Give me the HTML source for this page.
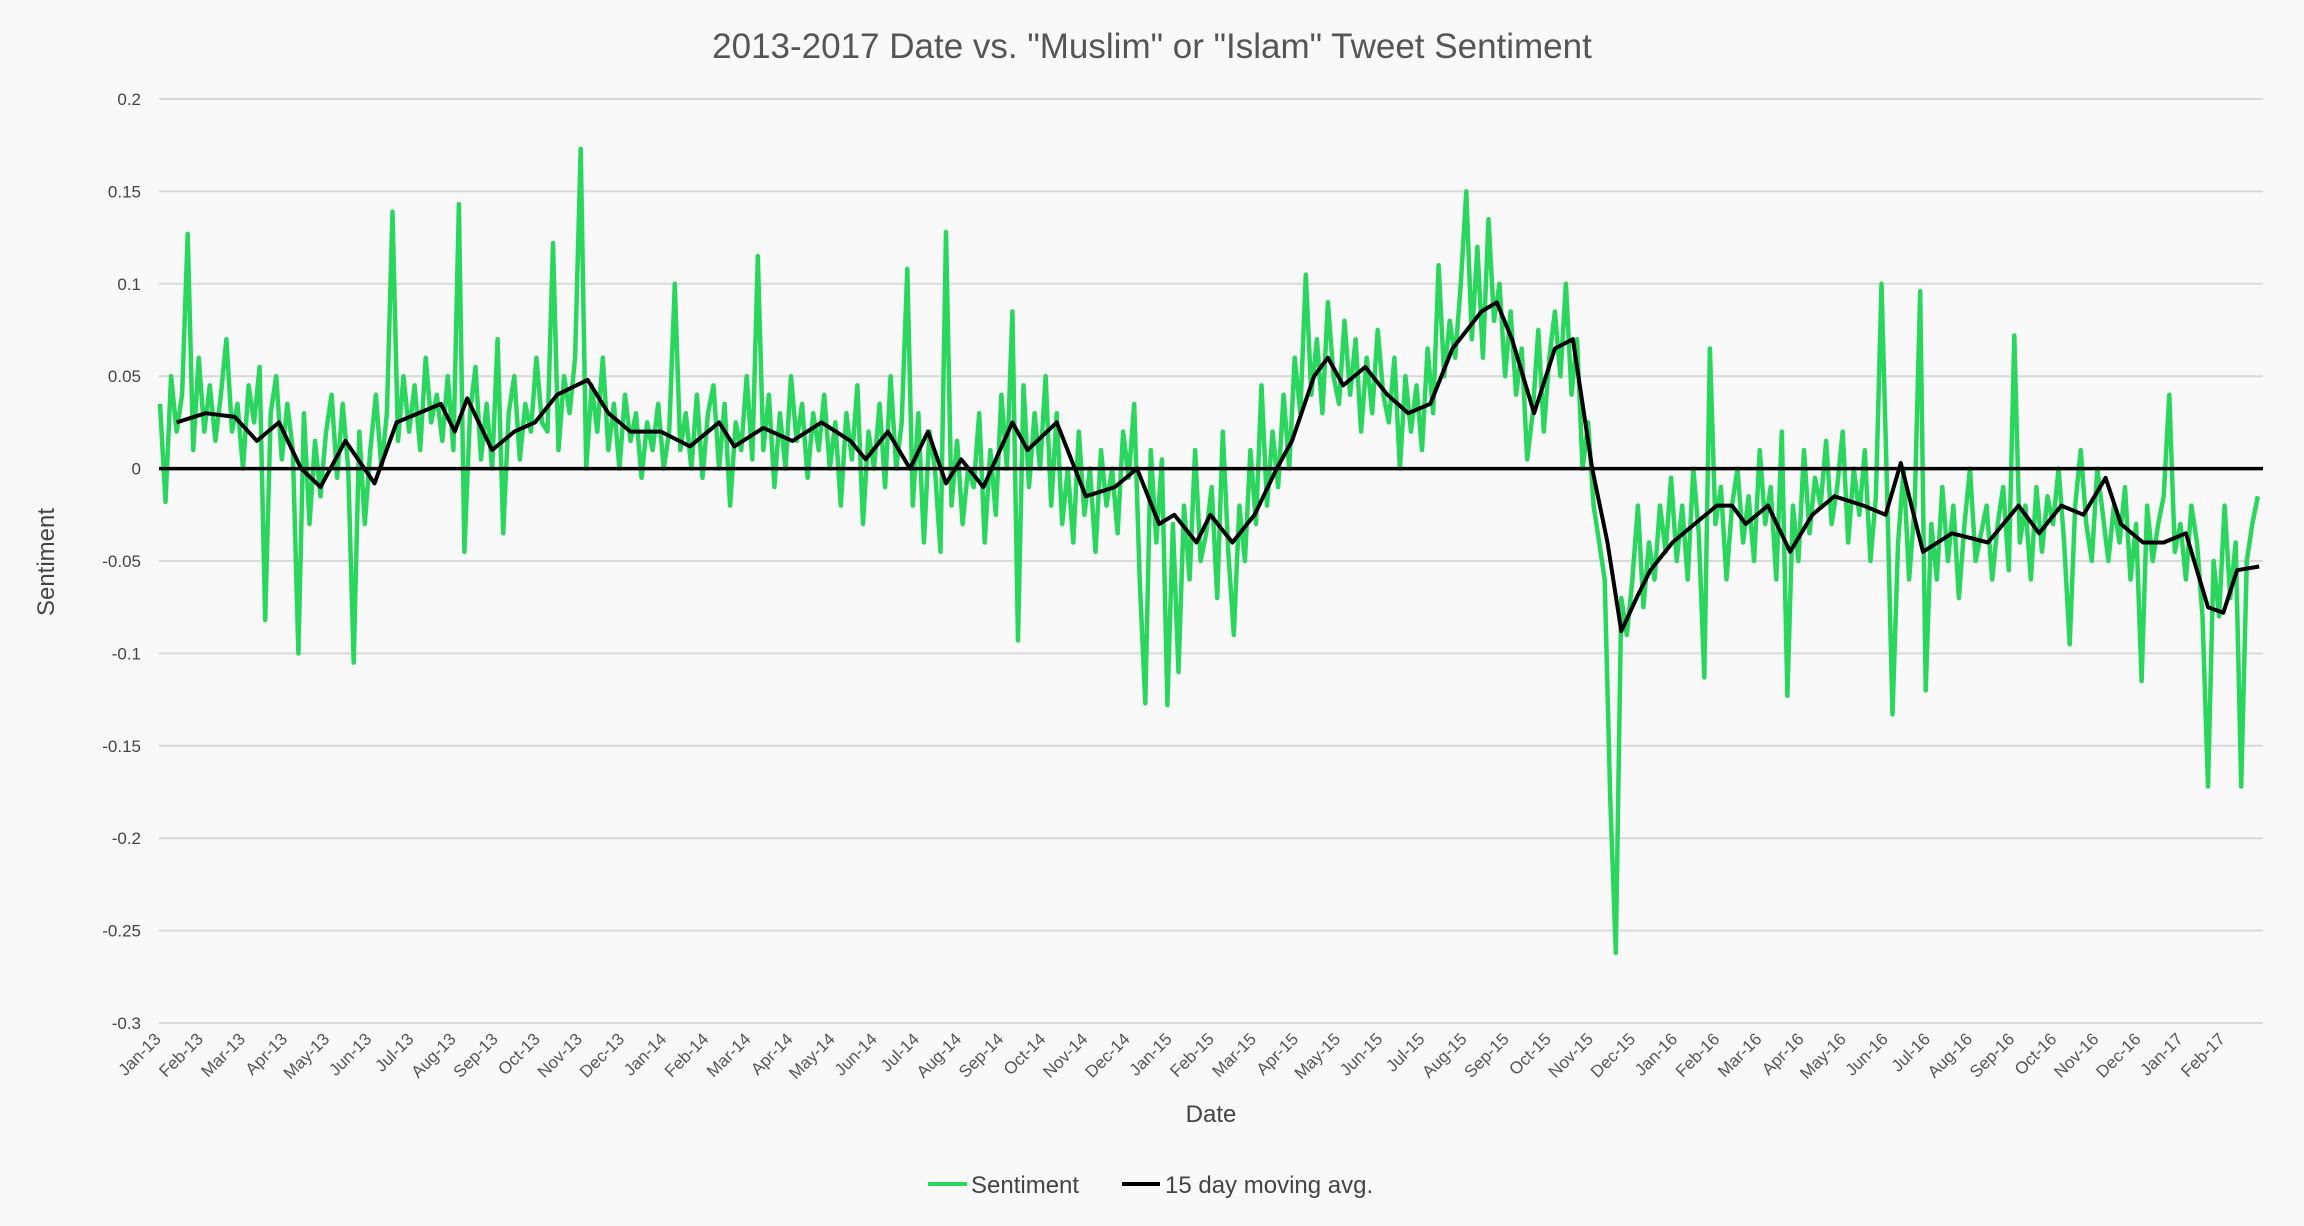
<!DOCTYPE html>
<html><head><meta charset="utf-8">
<style>
html,body{margin:0;padding:0;background:#f9f9f9;}
svg{display:block;font-family:"Liberation Sans",sans-serif;}
</style></head>
<body>
<svg id="chart" width="2304" height="1226" viewBox="0 0 2304 1226">
<rect width="2304" height="1226" fill="#f9f9f9"/>
<text x="1152" y="58" text-anchor="middle" font-size="35" fill="#555">2013-2017 Date vs. "Muslim" or "Islam" Tweet Sentiment</text>
<g id="grid"></g>
<g id="yticks"></g>
<g id="xticks"></g>
<g id="series"></g>
<text transform="translate(54,562) rotate(-90)" text-anchor="middle" font-size="24" fill="#444">Sentiment</text>
<text x="1211" y="1122" text-anchor="middle" font-size="24" fill="#444">Date</text>
<g>
<g><line x1="928" y1="1184" x2="967" y2="1184" stroke="#2ad65e" stroke-width="4"/><text x="971" y="1193" font-size="24" fill="#444">Sentiment</text></g>
<g><line x1="1122" y1="1184" x2="1160" y2="1184" stroke="#000" stroke-width="4"/><text x="1165" y="1193" font-size="24" fill="#444">15 day moving avg.</text></g>
</g>
</svg>
<script>
const yTicks=[0.2,0.15,0.1,0.05,0,-0.05,-0.1,-0.15,-0.2,-0.25,-0.3];
const yTickLabels=["0.2","0.15","0.1","0.05","0","-0.05","-0.1","-0.15","-0.2","-0.25","-0.3"];
const monthLabels=["Jan-13","Feb-13","Mar-13","Apr-13","May-13","Jun-13","Jul-13","Aug-13","Sep-13","Oct-13","Nov-13","Dec-13","Jan-14","Feb-14","Mar-14","Apr-14","May-14","Jun-14","Jul-14","Aug-14","Sep-14","Oct-14","Nov-14","Dec-14","Jan-15","Feb-15","Mar-15","Apr-15","May-15","Jun-15","Jul-15","Aug-15","Sep-15","Oct-15","Nov-15","Dec-15","Jan-16","Feb-16","Mar-16","Apr-16","May-16","Jun-16","Jul-16","Aug-16","Sep-16","Oct-16","Nov-16","Dec-16","Jan-17","Feb-17"];
const sentimentStepDays=4;
const sentiment=[0.035,-0.018,0.05,0.02,0.04,0.127,0.01,0.06,0.02,0.045,
0.015,0.04,0.07,0.02,0.035,0.0,0.045,0.025,0.055,-0.082,
0.03,0.05,0.005,0.035,0.01,-0.1,0.03,-0.03,0.015,-0.015,
0.02,0.04,-0.005,0.035,0.0,-0.105,0.02,-0.03,0.01,0.04,
0.0,0.03,0.139,0.015,0.05,0.02,0.045,0.01,0.06,0.025,
0.04,0.015,0.05,0.01,0.143,-0.045,0.03,0.055,0.005,0.035,
0.0,0.07,-0.035,0.03,0.05,0.005,0.035,0.02,0.06,0.025,
0.02,0.122,0.01,0.05,0.03,0.06,0.173,0.0,0.045,0.02,
0.06,0.01,0.035,0.0,0.04,0.015,0.03,-0.005,0.025,0.01,
0.035,0.0,0.02,0.1,0.01,0.03,0.0,0.04,-0.005,0.03,
0.045,0.0,0.035,-0.02,0.025,0.01,0.05,0.005,0.115,0.01,
0.04,-0.01,0.03,0.0,0.05,0.015,0.035,-0.005,0.03,0.01,
0.04,0.0,0.025,-0.02,0.03,0.005,0.045,-0.03,0.02,0.0,
0.035,-0.01,0.05,0.0,0.025,0.108,-0.02,0.03,-0.04,0.02,
0.0,-0.045,0.128,-0.02,0.015,-0.03,0.0,-0.01,0.03,-0.04,
0.01,-0.025,0.04,0.0,0.085,-0.093,0.045,-0.01,0.03,0.0,
0.05,-0.02,0.03,-0.03,0.0,-0.04,0.02,-0.025,0.0,-0.045,
0.01,-0.02,0.0,-0.035,0.02,-0.005,0.035,-0.06,-0.127,0.01,
-0.04,0.005,-0.128,-0.03,-0.11,-0.02,-0.06,0.01,-0.05,-0.035,
-0.01,-0.07,0.02,-0.045,-0.09,-0.02,-0.05,0.01,-0.03,0.045,
-0.02,0.02,-0.01,0.04,0.0,0.06,0.03,0.105,0.04,0.07,
0.03,0.09,0.05,0.035,0.08,0.04,0.07,0.02,0.06,0.03,
0.075,0.04,0.025,0.06,0.0,0.05,0.02,0.045,0.01,0.065,
0.03,0.11,0.05,0.08,0.06,0.1,0.15,0.07,0.12,0.06,
0.135,0.08,0.1,0.05,0.085,0.04,0.065,0.005,0.03,0.075,
0.02,0.06,0.085,0.05,0.1,0.04,0.07,0.0,0.025,-0.02,
-0.04,-0.06,-0.178,-0.262,-0.07,-0.09,-0.06,-0.02,-0.075,-0.04,
-0.06,-0.02,-0.045,-0.005,-0.05,-0.02,-0.06,0.0,-0.035,-0.113,
0.065,-0.03,-0.01,-0.06,-0.02,0.0,-0.04,-0.015,-0.05,0.01,
-0.03,-0.01,-0.06,0.02,-0.123,-0.02,-0.05,0.01,-0.035,-0.005,
-0.02,0.015,-0.03,-0.01,0.02,-0.04,0.0,-0.025,0.01,-0.05,
-0.015,0.1,-0.01,-0.133,-0.04,0.0,-0.06,-0.02,0.096,-0.12,
-0.03,-0.06,-0.01,-0.05,-0.02,-0.07,-0.03,0.0,-0.05,-0.035,
-0.02,-0.06,-0.03,-0.01,-0.055,0.072,-0.04,-0.02,-0.06,-0.01,
-0.045,-0.015,-0.03,0.0,-0.04,-0.095,-0.02,0.01,-0.03,-0.05,
0.0,-0.025,-0.05,-0.02,-0.04,-0.01,-0.06,-0.03,-0.115,-0.02,
-0.05,-0.03,-0.015,0.04,-0.045,-0.03,-0.06,-0.02,-0.04,-0.08,
-0.172,-0.05,-0.08,-0.02,-0.07,-0.04,-0.172,-0.05,-0.03,-0.015];
const maDays=[12,33,54,70,86,102,116,134,155,171,203,213,222,240,256,271,287,309,324,340,362,383,404,415,436,457,478,499,510,526,542,555,568,579,595,616,627,648,669,690,706,722,733,749,759,775,791,807,818,834,844,855,871,887,902,918,934,955,966,977,993,1008,1021,1035,1046,1056,1067,1077,1093,1109,1125,1136,1146,1162,1178,1194,1210,1231,1247,1258,1274,1295,1321,1343,1358,1374,1390,1406,1417,1433,1448,1464,1480,1491,1501,1517];
const maVals=[0.025,0.03,0.028,0.015,0.025,0.0,-0.01,0.015,-0.008,0.025,0.035,0.02,0.038,0.01,0.02,0.025,0.04,0.048,0.03,0.02,0.02,0.012,0.025,0.012,0.022,0.015,0.025,0.015,0.005,0.02,0.0,0.02,-0.008,0.005,-0.01,0.025,0.01,0.025,-0.015,-0.01,0.0,-0.03,-0.025,-0.04,-0.025,-0.04,-0.025,0.0,0.015,0.05,0.06,0.045,0.055,0.04,0.03,0.035,0.065,0.085,0.09,0.07,0.03,0.065,0.07,0.0,-0.04,-0.088,-0.07,-0.055,-0.04,-0.03,-0.02,-0.02,-0.03,-0.02,-0.045,-0.025,-0.015,-0.02,-0.025,0.003,-0.045,-0.035,-0.04,-0.02,-0.035,-0.02,-0.025,-0.005,-0.03,-0.04,-0.04,-0.035,-0.075,-0.078,-0.055,-0.053];

const NS="http://www.w3.org/2000/svg";
const X0=159,X1=2263,Y_TOP=99,Y_BOT=1023,DAYS=1519;
function xs(d){return X0+1+d*(X1-X0-2)/DAYS;}
function ys(v){return Y_TOP+(0.2-v)*(Y_BOT-Y_TOP)/0.5;}
function mk(tag,attrs,parent){const e=document.createElementNS(NS,tag);for(const k in attrs)e.setAttribute(k,attrs[k]);parent.appendChild(e);return e;}
const grid=document.getElementById('grid'),yt=document.getElementById('yticks'),xt=document.getElementById('xticks'),ser=document.getElementById('series');
yTicks.forEach((v,i)=>{
  const l=mk('line',{x1:X0,x2:X1,y1:ys(v),y2:ys(v),stroke:'#d9d9d9','stroke-width':2},grid);
  
  
  const t=mk('text',{x:141,y:ys(v)+6,'text-anchor':'end','font-size':17,fill:'#444'},yt);
  t.textContent=yTickLabels[i];
  
  
});
monthLabels.forEach((m,i)=>{
  const d=i*30.44;
  const x=xs(d)+2,y=1040;
  const t=mk('text',{x:x,y:y,'text-anchor':'end','font-size':17,fill:'#555',transform:`rotate(-45 ${x} ${y})`},xt);
  t.textContent=m;
  
  
});
let p='';
sentiment.forEach((v,i)=>{p+=(i?'L':'M')+xs(i*sentimentStepDays).toFixed(1)+' '+ys(v).toFixed(1);});
const sp=mk('path',{d:p,fill:'none',stroke:'#2ad65e','stroke-width':4.5,'stroke-linejoin':'round'},ser);


const zl=mk('line',{x1:X0,x2:X1,y1:ys(0),y2:ys(0),stroke:'#000','stroke-width':3.5},ser);


let q='';
maDays.forEach((d,i)=>{q+=(i?'L':'M')+xs(d).toFixed(1)+' '+ys(maVals[i]).toFixed(1);});
const mp=mk('path',{d:q,fill:'none',stroke:'#000','stroke-width':4,'stroke-linejoin':'round'},ser);


</script>
</body></html>
